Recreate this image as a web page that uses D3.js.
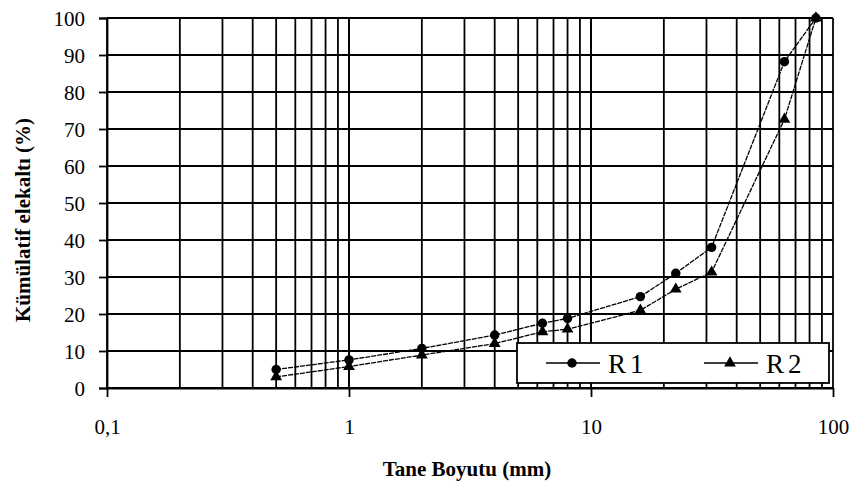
<!DOCTYPE html>
<html>
<head>
<meta charset="utf-8">
<script src="https://cdn.jsdelivr.net/npm/d3@7"></script>
<style>
  body { margin: 0; background: #fff; }
  text { font-family: "Liberation Serif", "Times New Roman", serif; fill: #000; }
</style>
</head>
<body>
<div id="chart"></div>
<script>
// grain size (mm) and cumulative passing (%)
const sizes = [0.5, 1, 2, 4, 6.3, 8, 16, 22.4, 31.5, 63, 85]
const r1 = [5, 7.6, 10.7, 14.3, 17.5, 18.8, 24.7, 31, 38, 88.2, 100]
const r2 = [3, 5.8, 8.9, 12, 15.2, 15.9, 21, 26.7, 31.3, 72.6, 100]
const seriesNames = ['R1', 'R2']
const xTickLabels = ['0,1', '1', '10', '100']
const yTicks = [0, 10, 20, 30, 40, 50, 60, 70, 80, 90, 100]

const width = 853
const height = 488
const margin = {top: 18, right: 20, bottom: 100, left: 107}

const x = d3.scaleLog().domain([0.1, 100]).range([margin.left, width - margin.right])
const y = d3.scaleLinear().domain([0, 100]).range([height - margin.bottom, margin.top])

const svg = d3.select('#chart').append('svg')
  .attr('width', width)
  .attr('height', height)

// minor log grid
const gridX = []
for (let p = -1; p < 2; p++) {
  for (let m = 1; m <= 10; m++) gridX.push(m * Math.pow(10, p))
}

const grid = svg.append('g').attr('class', 'grid')
grid.selectAll('.vline')
  .data(gridX)
  .enter().append('line')
  .attr('class', 'vline')
  .attr('x1', d => x(d)).attr('x2', d => x(d))
  .attr('y1', y(0)).attr('y2', y(100))
  .attr('stroke', '#000').attr('stroke-width', 1.8)

grid.selectAll('.hline')
  .data(yTicks)
  .enter().append('line')
  .attr('class', 'hline')
  .attr('x1', x(0.1)).attr('x2', x(100))
  .attr('y1', d => y(d)).attr('y2', d => y(d))
  .attr('stroke', '#000').attr('stroke-width', 1.8)

// axes
const yAxis = d3.axisLeft(y).tickValues(yTicks).tickSize(8).tickPadding(14)
svg.append('g')
  .attr('transform', `translate(${margin.left},0)`)
  .call(yAxis)
  .call(g => g.selectAll('.tick text').attr('font-size', 21).attr('dy', '0.35em'))
  .call(g => g.selectAll('line, path').attr('stroke', '#000').attr('stroke-width', 1.8))

const xAxis = d3.axisBottom(x)
  .tickValues([0.1, 1, 10, 100])
  .tickFormat((d, i) => xTickLabels[i])
  .tickSize(9).tickSizeOuter(0).tickPadding(22)
svg.append('g')
  .attr('transform', `translate(0,${y(0)})`)
  .call(xAxis)
  .call(g => g.selectAll('.tick text').attr('font-size', 21))
  .call(g => g.selectAll('line, path').attr('stroke', '#000').attr('stroke-width', 1.8))

// series
const series = [
  {name: seriesNames[0], values: r1, symbol: d3.symbolCircle, size: 70},
  {name: seriesNames[1], values: r2, symbol: d3.symbolTriangle, size: 60}
]

const line = d3.line()
  .x(d => x(d[0]))
  .y(d => y(d[1]))

series.forEach(s => {
  const pts = sizes.map((v, i) => [v, s.values[i]])
  svg.append('path')
    .datum(pts)
    .attr('fill', 'none')
    .attr('stroke', '#000')
    .attr('stroke-width', 1.3)
    .attr('stroke-dasharray', '5,1')
    .attr('d', line)

  svg.append('g').selectAll('path')
    .data(pts)
    .enter().append('path')
    .attr('transform', d => `translate(${x(d[0])},${y(d[1])})`)
    .attr('d', d3.symbol().type(s.symbol).size(s.size))
    .attr('fill', '#000')
})

// legend
const legend = svg.append('g').attr('transform', 'translate(517,343)')
legend.append('rect')
  .attr('width', 312).attr('height', 40)
  .attr('fill', '#fff').attr('stroke', '#000').attr('stroke-width', 1.8)

series.forEach((s, i) => {
  const lg = legend.append('g').attr('transform', `translate(${29 + i * 158},20)`)
  lg.append('line')
    .attr('x1', 0).attr('x2', 54)
    .attr('stroke', '#000').attr('stroke-width', 1.3)
  lg.append('path')
    .attr('transform', 'translate(26,0)')
    .attr('d', d3.symbol().type(s.symbol).size(s.size))
    .attr('fill', '#000')
  lg.append('text')
    .attr('x', 62).attr('y', 10)
    .attr('font-size', 27)
    .attr('letter-spacing', 4)
    .text(s.name)
})

// axis titles
svg.append('text')
  .attr('x', 467).attr('y', 476)
  .attr('text-anchor', 'middle')
  .attr('font-size', 21).attr('font-weight', 'bold')
  .text('Tane Boyutu (mm)')

svg.append('text')
  .attr('transform', 'translate(30,220) rotate(-90)')
  .attr('text-anchor', 'middle')
  .attr('font-size', 21).attr('font-weight', 'bold')
  .text('Kümülatif elekaltı (%)')
</script>
</body>
</html>
